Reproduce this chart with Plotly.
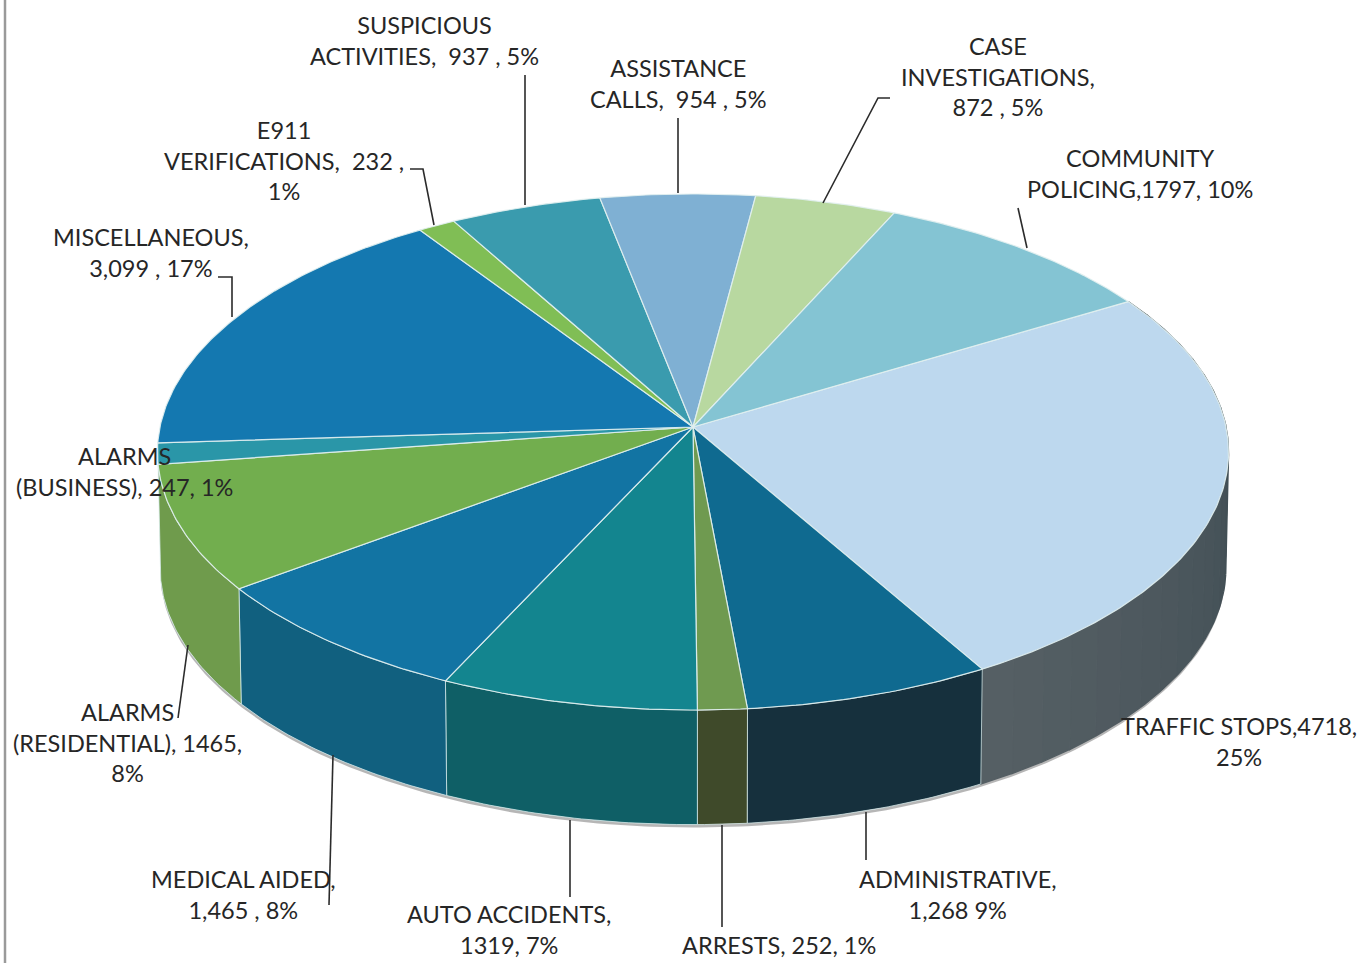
import math
import plotly.graph_objects as go

W, H = 1371, 963

# ---- data -----------------------------------------------------------
categories = ["TRAFFIC STOPS", "ADMINISTRATIVE", "ARRESTS", "AUTO ACCIDENTS", "MEDICAL AIDED",
              "ALARMS (RESIDENTIAL)", "ALARMS (BUSINESS)", "MISCELLANEOUS", "E911 VERIFICATIONS",
              "SUSPICIOUS ACTIVITIES", "ASSISTANCE CALLS", "CASE INVESTIGATIONS", "COMMUNITY POLICING"]
values = [4718, 1268, 252, 1319, 1465, 1465, 247, 3099, 232, 937, 954, 872, 1797]
top_colors = ["#BDD8EE", "#0F6A90", "#6F9A50", "#13858F", "#1274A3", "#72AE4E", "#2A96A8",
              "#1478B0", "#80BE55", "#3A9BAE", "#7FB0D3", "#B8D8A0", "#84C4D3"]
side_colors = ["#4E5A60", "#16303D", "#3F4A2A", "#0F5F66", "#11607F", "#6F9B4C"]
label_texts = ["TRAFFIC STOPS,4718,<br>25%", "ADMINISTRATIVE,<br>1,268 9%", "ARRESTS, 252, 1%",
               "AUTO ACCIDENTS,<br>1319, 7%", "MEDICAL AIDED,<br>1,465 , 8%",
               "ALARMS<br>(RESIDENTIAL), 1465,<br>8%", "ALARMS<br>(BUSINESS), 247, 1%",
               "MISCELLANEOUS,<br>3,099 , 17%", "E911<br>VERIFICATIONS,  232 ,<br>1%",
               "SUSPICIOUS<br>ACTIVITIES,  937 , 5%", "ASSISTANCE<br>CALLS,  954 , 5%",
               "CASE<br>INVESTIGATIONS,<br>872 , 5%", "COMMUNITY<br>POLICING,1797, 10%"]

# ---- layout of the labels (centre of text block) and leader lines ----
label_pos = [(1239, 741), (958, 894), (779, 945), (509, 929), (243, 894), (127, 742), (124, 471),
             (151, 252), (284, 160), (424, 40), (678, 83), (998, 76), (1140, 173)]
leaders = [
    [(866, 812), (866, 860)],
    [(722, 825), (722, 927)],
    [(570, 820), (570, 897)],
    [(333, 755), (329, 905)],
    [(188, 645), (178, 718)],
    [(218, 277), (232, 277), (232, 317)],
    [(410, 169), (423, 169), (434, 225)],
    [(525, 75), (525, 205)],
    [(678, 118), (678, 193)],
    [(890, 98), (878, 98), (823, 203)],
    [(1018, 208), (1027, 248)],
]

# ---- tilted-disc projection ------------------------------------------
CX, CY, RX, RY, K = 693, 427, 533, 255.6, 0.0969
DEPTH, BOTTOM_SCALE = 116, 0.995
START_DEG = 31.0
FRONT_SLICES = 6  # only these walls face the viewer


def proj(deg, base=False):
    t = math.radians(deg)
    c, s = math.cos(t), math.sin(t)
    w = 1 + K * s
    f = BOTTOM_SCALE if base else 1
    return (CX + f * RX * c / w, CY + (DEPTH if base else 0) - f * RY * s / w)


def arc(a0, a1, base=False):
    n = max(2, int(abs(a1 - a0) * 1.5))
    return [proj(a0 + (a1 - a0) * i / n, base) for i in range(n + 1)]


def mix(c1, c2, u):
    p = [int(c1[i:i + 2], 16) for i in (1, 3, 5)]
    q = [int(c2[i:i + 2], 16) for i in (1, 3, 5)]
    return "rgb(%d,%d,%d)" % tuple(round(a + (b - a) * u) for a, b in zip(p, q))


def poly(points, fill, line="rgba(0,0,0,0)", lw=0, name=None):
    return go.Scatter(x=[p[0] for p in points], y=[p[1] for p in points], mode="lines",
                      fill="toself", fillcolor=fill, line=dict(color=line, width=lw),
                      hoverinfo="skip", showlegend=False, name=name)


total = sum(values)
spans = []
a = START_DEG
for v in values:
    b = a - v / total * 360
    spans.append((a, b))
    a = b

fig = go.Figure()

# soft shadow under the rim, front half only
shadow = arc(10, -190, True) + [(x, y + 3) for x, y in arc(-190, 10, True)]
fig.add_trace(poly(shadow, "rgba(110,110,110,0.5)"))

# side walls
for i in range(FRONT_SLICES):
    a0, b0 = spans[i]
    if i == 0:  # traffic wall is shaded in strips
        n = 24
        for j in range(n):
            s0 = a0 + (b0 - a0) * j / n
            s1 = a0 + (b0 - a0) * (j + 1) / n
            pts = arc(s0, s1) + arc(s1, s0, True)
            col = mix("#36454C", "#555F64", j / (n - 1))
            fig.add_trace(poly(pts, col, col, 1.5, categories[i]))
    else:
        pts = arc(a0, b0) + arc(b0, a0, True) + [proj(a0)]
        fig.add_trace(poly(pts, side_colors[i], "rgba(215,235,235,0.75)", 1, categories[i]))

# top faces
for i, (a0, b0) in enumerate(spans):
    pts = [(CX, CY)] + arc(a0, b0) + [(CX, CY)]
    fig.add_trace(poly(pts, top_colors[i], "rgba(225,240,240,0.9)", 1.2, categories[i]))

# leader lines
for pts in leaders:
    fig.add_trace(go.Scatter(x=[p[0] for p in pts], y=[p[1] for p in pts], mode="lines",
                             line=dict(color="#2b2b2b", width=1.6), hoverinfo="skip", showlegend=False))

# scanned page edge
fig.add_shape(type="line", x0=5, x1=5, y0=0, y1=H, line=dict(color="#9a9a9a", width=2.5))

for text, (x, y) in zip(label_texts, label_pos):
    fig.add_annotation(x=x, y=y, text=text, showarrow=False, xanchor="center", yanchor="middle",
                       align="center", font=dict(family="Lato", size=23.5, color="#262626"))

fig.update_xaxes(visible=False, range=[0, W], fixedrange=True)
fig.update_yaxes(visible=False, range=[H, 0], fixedrange=True)
fig.update_layout(width=W, height=H, margin=dict(l=0, r=0, t=0, b=0),
                  paper_bgcolor="white", plot_bgcolor="white", showlegend=False)

fig.write_html("out.html", config={"displayModeBar": False},
               post_script="document.body.style.margin='0';document.body.style.overflow='hidden';")
